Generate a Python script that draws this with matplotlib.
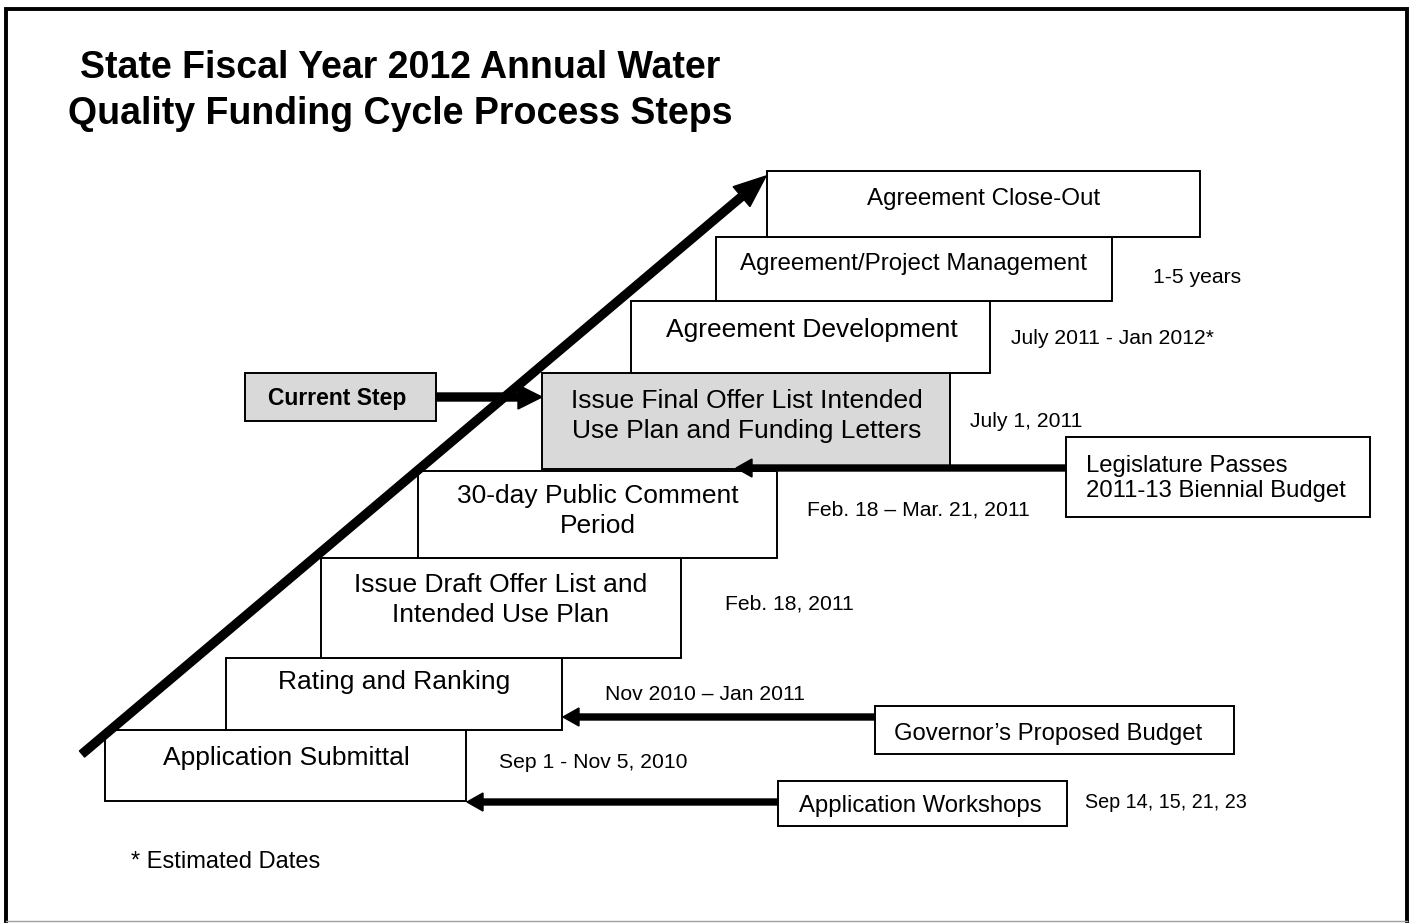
import matplotlib
matplotlib.use("Agg")
import matplotlib.pyplot as plt
from matplotlib.patches import Rectangle

plt.rcParams['font.family'] = ['Liberation Sans', 'DejaVu Sans']

# ---- content ----
title_lines = ["State Fiscal Year 2012 Annual Water", "Quality Funding Cycle Process Steps"]
step_labels = ["Application Submittal", "Rating and Ranking",
               "Issue Draft Offer List and\nIntended Use Plan",
               "30-day Public Comment\nPeriod",
               "Issue Final Offer List Intended\nUse Plan and Funding Letters",
               "Agreement Development", "Agreement/Project Management",
               "Agreement Close-Out"]
step_dates = ["Sep 1 - Nov 5, 2010", "Nov 2010 \u2013 Jan 2011", "Feb. 18, 2011",
              "Feb. 18 \u2013 Mar. 21, 2011", "July 1, 2011",
              "July 2011 - Jan 2012*", "1-5 years", ""]
current_step_index = 4
input_labels = ["Application Workshops", "Governor\u2019s Proposed Budget",
                "Legislature Passes\n2011-13 Biennial Budget"]
input_dates = ["Sep 14, 15, 21, 23", "", ""]
current_label = "Current Step"
footnote = "* Estimated Dates"

# ---- layout (pixel coordinates) ----
step_boxes = [(105, 730, 466, 801), (226, 658, 562, 730), (321, 558, 681, 658),
              (418, 471, 777, 558), (542, 373, 950, 469), (631, 301, 990, 373),
              (716, 237, 1112, 301), (767, 171, 1200, 237)]
step_text_xy = [(286, 765), (394, 689), (501, 592), (598, 503), (747, 408),
                (812, 337), (914, 270), (984, 205)]
step_font = [19, 19, 19, 19, 19, 19, 17.4, 17.4]
step_date_xy = [(499, 768), (605, 700), (725, 610), (807, 516), (970, 427),
                (1011, 344), (1153, 283), (0, 0)]
input_boxes = [(778, 781, 1067, 826), (875, 706, 1234, 754), (1066, 437, 1370, 517)]
input_text_xy = [(920, 812, 'center'), (1048, 740, 'center'), (1086, 472, 'left')]
input_date_xy = [(1085, 808), (0, 0), (0, 0)]
input_arrow = [(778, 467, 802), (875, 563, 717), (1066, 736, 468)]

W, H = 1411, 923
fig = plt.figure(figsize=(W / 100, H / 100), dpi=100)
ax = fig.add_axes([0, 0, 1, 1])
ax.set_xlim(0, W)
ax.set_ylim(H, 0)
ax.axis('off')

# outer frame
ax.plot([5.5, 5.5, 1406.5, 1406.5], [921, 8.5, 8.5, 921], color='black', lw=2.8,
        solid_joinstyle='miter')
ax.plot([5.5, 1406.5], [921, 921], color='#a0a0a0', lw=1.0)

# title
for i, t in enumerate(title_lines):
    ax.text(400, 78 + 46 * i, t, ha='center', va='baseline', fontsize=27,
            fontweight='bold')

SIDE = 17.2
DATE = 15.2

# steps
for i, (lab, (x0, y0, x1, y1)) in enumerate(zip(step_labels, step_boxes)):
    fc = '#d9d9d9' if i == current_step_index else 'white'
    ax.add_patch(Rectangle((x0, y0), x1 - x0, y1 - y0, fc=fc, ec='black', lw=1.4,
                           zorder=2))
    tx, ty = step_text_xy[i]
    for k, ln in enumerate(lab.split('\n')):
        ax.text(tx, ty + 30 * k, ln, ha='center', va='baseline',
                fontsize=step_font[i], zorder=3)
    if step_dates[i]:
        dx, dy = step_date_xy[i]
        ax.text(dx, dy, step_dates[i], ha='left', va='baseline', fontsize=DATE)

# input boxes
for i, lab in enumerate(input_labels):
    x0, y0, x1, y1 = input_boxes[i]
    ax.add_patch(Rectangle((x0, y0), x1 - x0, y1 - y0, fc='white', ec='black', lw=1.4,
                           zorder=2))
    tx, ty, ha = input_text_xy[i]
    for k, ln in enumerate(lab.split('\n')):
        ax.text(tx, ty + 25 * k, ln, ha=ha, va='baseline', fontsize=SIDE, zorder=3)
    if input_dates[i]:
        dx, dy = input_date_xy[i]
        ax.text(dx, dy, input_dates[i], ha='left', va='baseline', fontsize=14.2)
    xs, xe, ya = input_arrow[i]
    ax.arrow(xs, ya, xe - xs, 0, width=6, head_width=18, head_length=16,
             length_includes_head=True, fc='black', ec='black', zorder=4)

# current step box and arrow
ax.add_patch(Rectangle((245, 373), 436 - 245, 421 - 373, fc='#d9d9d9', ec='black',
                       lw=1.4, zorder=2))
ax.text(337, 405, current_label, ha='center', va='baseline', fontsize=16.5,
        fontweight='bold', zorder=3)
ax.arrow(436, 397, 542 - 436, 0, width=8, head_width=24, head_length=24,
         length_includes_head=True, fc='black', ec='black', zorder=5)

# big diagonal arrow
ax.arrow(82, 754, 766 - 82, 176 - 754, width=8, head_width=26, head_length=32,
         length_includes_head=True, fc='black', ec='black', zorder=5)

ax.text(131, 868, footnote, ha='left', va='baseline', fontsize=17)

fig.savefig('out.png', dpi=100)
